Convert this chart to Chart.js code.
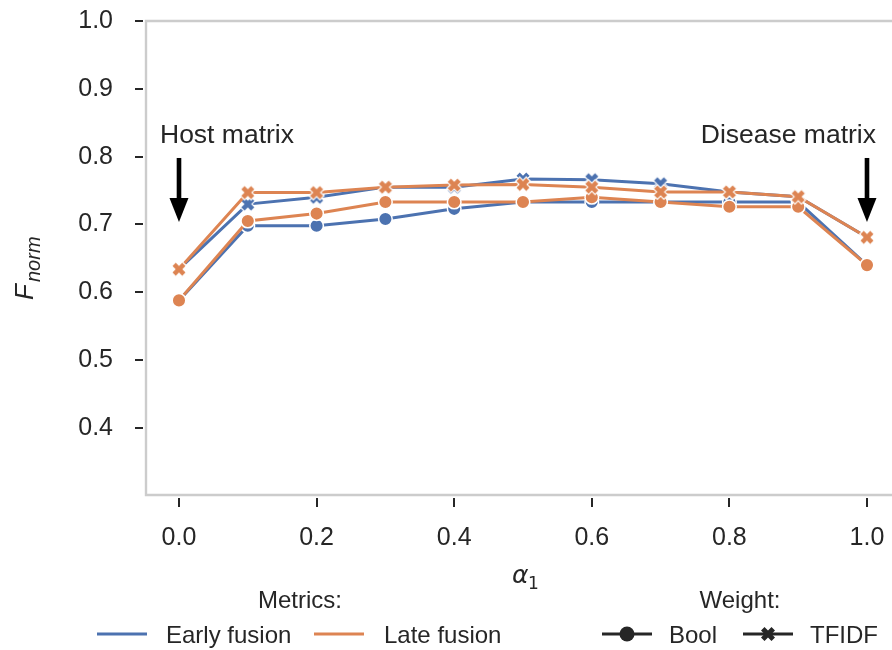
<!DOCTYPE html>
<html><head><meta charset="utf-8">
<script src="https://cdn.jsdelivr.net/npm/chart.js@4/dist/chart.umd.min.js"></script>
<style>html,body{margin:0;padding:0;background:#fff;overflow:hidden}</style>
</head><body>
<canvas id="c" width="892" height="650"></canvas>
<script>
// ---- data ----
const alphas      = [0.0, 0.1, 0.2, 0.3, 0.4, 0.5, 0.6, 0.7, 0.8, 0.9, 1.0];
const earlyBool   = [0.588, 0.698, 0.698, 0.708, 0.723, 0.733, 0.733, 0.733, 0.733, 0.733, 0.640];
const lateBool    = [0.588, 0.705, 0.716, 0.733, 0.733, 0.733, 0.740, 0.733, 0.726, 0.726, 0.640];
const earlyTfidf  = [0.634, 0.730, 0.740, 0.755, 0.755, 0.767, 0.766, 0.760, 0.748, 0.741, 0.681];
const lateTfidf   = [0.634, 0.747, 0.747, 0.755, 0.758, 0.759, 0.755, 0.748, 0.748, 0.741, 0.681];
const yTickVals   = [0.4, 0.5, 0.6, 0.7, 0.8, 0.9, 1.0];
const xTickVals   = [0.0, 0.2, 0.4, 0.6, 0.8, 1.0];
const annotations = [{x: 0.0, text: 'Host matrix', align: 'left'}, {x: 1.0, text: 'Disease matrix', align: 'right'}];
const metricLabels = ['Early fusion', 'Late fusion'];
const weightLabels = ['Bool', 'TFIDF'];

const BLUE = '#4C72B0', ORANGE = '#DD8452', TEXT = '#262626', SPINE = '#cccccc';
const FONT = '"Liberation Sans", Arial, Helvetica, sans-serif';

function xMarker(color, size, edge) {
  const s = Math.ceil(size + edge * 2 + 4);
  const c = document.createElement('canvas'); c.width = s; c.height = s;
  const g = c.getContext('2d');
  const v = [[-1,-2],[0,-1],[1,-2],[2,-1],[1,0],[2,1],[1,2],[0,1],[-1,2],[-2,1],[-1,0],[-2,-1]];
  const k = size / 4;
  g.beginPath();
  v.forEach((p, i) => { const px = s/2 + p[0]*k, py = s/2 + p[1]*k; i ? g.lineTo(px, py) : g.moveTo(px, py); });
  g.closePath();
  if (edge > 0) { g.lineWidth = edge * 2; g.strokeStyle = '#fff'; g.lineJoin = 'miter'; g.stroke(); }
  g.fillStyle = color; g.fill();
  return c;
}
const xBlue = xMarker(BLUE, 13, 1.2), xOrange = xMarker(ORANGE, 13, 1.2);
const xBlack = xMarker(TEXT, 14, 0);

function pts(vals) { return alphas.map((a, i) => ({x: a, y: vals[i]})); }
function ds(label, vals, color, marker, order) {
  const common = {label, data: pts(vals), borderColor: color, backgroundColor: color, borderWidth: 3,
    tension: 0, order, fill: false};
  if (marker === 'circle') return Object.assign(common, {pointStyle: 'circle', pointRadius: 6.8,
    pointBackgroundColor: color, pointBorderColor: '#ffffff', pointBorderWidth: 1.5});
  return Object.assign(common, {pointStyle: marker, pointRadius: 8, pointBorderWidth: 0});
}

function noPad(s) { s.paddingTop = 0; s.paddingBottom = 0; s.paddingLeft = 0; s.paddingRight = 0; }

const deco = {
  id: 'deco',
  beforeDatasetsDraw(chart) {
    const {ctx, chartArea: a, scales: {x, y}} = chart;
    ctx.save();
    ctx.strokeStyle = SPINE; ctx.lineWidth = 2.4;
    ctx.beginPath();
    ctx.moveTo(a.right + 5, a.top); ctx.lineTo(a.left - 1, a.top); ctx.lineTo(a.left - 1, a.bottom); ctx.lineTo(a.right + 5, a.bottom);
    ctx.stroke();
    ctx.strokeStyle = TEXT; ctx.lineWidth = 2;
    ctx.beginPath();
    yTickVals.forEach(v => { const py = Math.round(y.getPixelForValue(v)); ctx.moveTo(a.left - 12, py); ctx.lineTo(a.left - 4, py); });
    xTickVals.forEach(v => { const px = Math.round(x.getPixelForValue(v)); ctx.moveTo(px, a.bottom + 3); ctx.lineTo(px, a.bottom + 12); });
    ctx.stroke();
    ctx.restore();
  },
  afterDatasetsDraw(chart) {
    const {ctx, scales: {x, y}} = chart;
    ctx.save();
    const tail = y.getPixelForValue(0.798), tip = y.getPixelForValue(0.7035);
    annotations.forEach(an => {
      const px = x.getPixelForValue(an.x);
      ctx.fillStyle = '#000';
      ctx.fillRect(px - 2.3, tail, 4.6, (tip - tail) - 20);
      ctx.beginPath();
      ctx.moveTo(px - 9.5, tip - 24); ctx.lineTo(px + 9.5, tip - 24); ctx.lineTo(px, tip); ctx.closePath(); ctx.fill();
      ctx.fillStyle = TEXT; ctx.font = '26.5px ' + FONT; ctx.textBaseline = 'alphabetic';
      if (an.align === 'left') { ctx.textAlign = 'left'; ctx.fillText(an.text, px - 19, tail - 15); }
      else { ctx.textAlign = 'right'; ctx.fillText(an.text, px + 9, tail - 15); }
    });
    ctx.restore();
  },
  afterDraw(chart) {
    const {ctx} = chart;
    ctx.save();
    ctx.fillStyle = TEXT; ctx.textBaseline = 'alphabetic';
    ctx.font = 'italic 25px "DejaVu Sans", ' + FONT; ctx.textAlign = 'left';
    ctx.fillText('α', 512, 583);
    ctx.font = '17px "DejaVu Sans", ' + FONT;
    ctx.fillText('1', 528, 589);
    ctx.save();
    ctx.translate(33, 300); ctx.rotate(-Math.PI / 2);
    ctx.font = 'italic 26px ' + FONT; ctx.textAlign = 'left';
    ctx.fillText('F', 0, 0);
    ctx.font = 'italic 20px ' + FONT;
    ctx.fillText('norm', 18, 7);
    ctx.restore();
    // legend
    ctx.font = '24px ' + FONT; ctx.textAlign = 'center';
    ctx.fillText('Metrics:', 300, 608);
    ctx.fillText('Weight:', 740, 608);
    ctx.textAlign = 'left';
    const ly = 634, by = 643;
    [[BLUE, 97, metricLabels[0], 166], [ORANGE, 314, metricLabels[1], 384]].forEach(([c, x0, t, tx]) => {
      ctx.strokeStyle = c; ctx.lineWidth = 3; ctx.beginPath(); ctx.moveTo(x0, ly); ctx.lineTo(x0 + 50, ly); ctx.stroke();
      ctx.fillText(t, tx, by);
    });
    ctx.strokeStyle = TEXT; ctx.lineWidth = 3;
    ctx.beginPath(); ctx.moveTo(602, ly); ctx.lineTo(652, ly); ctx.moveTo(743, ly); ctx.lineTo(793, ly); ctx.stroke();
    ctx.fillStyle = TEXT; ctx.beginPath(); ctx.arc(627, ly, 7.5, 0, Math.PI * 2); ctx.fill();
    ctx.drawImage(xBlack, 768 - xBlack.width / 2, ly - xBlack.height / 2);
    ctx.fillText(weightLabels[0], 669, by);
    ctx.fillText(weightLabels[1], 810, by);
    ctx.restore();
  }
};

new Chart(document.getElementById('c'), {
  type: 'line',
  data: {
    datasets: [
      ds('Early fusion Bool', earlyBool, BLUE, 'circle', 4),
      ds('Early fusion TFIDF', earlyTfidf, BLUE, xBlue, 3),
      ds('Late fusion Bool', lateBool, ORANGE, 'circle', 2),
      ds('Late fusion TFIDF', lateTfidf, ORANGE, xOrange, 1)
    ]
  },
  options: {
    responsive: false, animation: false, devicePixelRatio: 1,
    layout: {autoPadding: false, padding: {left: 0, top: 21, right: 0, bottom: 0}},
    plugins: {legend: {display: false}, tooltip: {enabled: false}},
    scales: {
      x: {
        type: 'linear', min: -0.0465, max: -0.0465 + 745 / 688,
        afterFit(s) { s.height = 155; noPad(s); },
        afterBuildTicks(s) { s.ticks = xTickVals.map(v => ({value: v})); },
        grid: {display: false, drawTicks: false},
        border: {display: false},
        ticks: {padding: 28, color: TEXT, font: {family: FONT, size: 25}, maxRotation: 0,
          callback: v => Number(v).toFixed(1)}
      },
      y: {
        type: 'linear', min: 0.301, max: 1.0,
        afterFit(s) { s.width = 147; noPad(s); },
        afterBuildTicks(s) { s.ticks = yTickVals.map(v => ({value: v})); },
        grid: {display: false, drawTicks: false},
        border: {display: false},
        ticks: {padding: 34, color: TEXT, font: {family: FONT, size: 25},
          callback: v => Number(v).toFixed(1)}
      }
    }
  },
  plugins: [deco]
});
</script>
</body></html>
